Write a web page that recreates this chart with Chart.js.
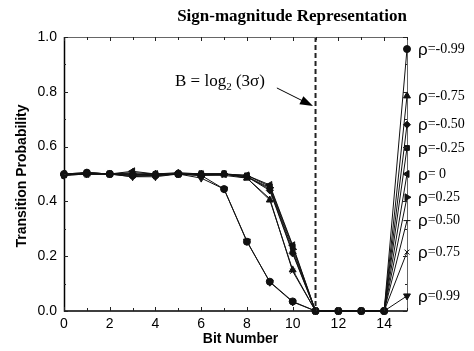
<!DOCTYPE html>
<html><head><meta charset="utf-8">
<script src="https://cdn.jsdelivr.net/npm/chart.js@4.4.1/dist/chart.umd.min.js"></script>
<style>html,body{margin:0;padding:0;background:#fff}#wrap{width:474px;height:351px}</style>
</head><body><div id="wrap"><canvas id="c" width="474" height="351"></canvas></div>
<script>
const bits = [0,1,2,3,4,5,6,7,8,9,10,11,12,13,14,15];
const xTickValues = [0,2,4,6,8,10,12,14];
const yTickValues = [0,0.2,0.4,0.6,0.8,1.0];
const rhoLabels = ['-0.99','-0.75','-0.50','-0.25',' 0','0.25','0.50','0.75','0.99'];
const sM099 = [0.50,0.505,0.50,0.495,0.495,0.50,0.495,0.445,0.253,0.107,0.035,0,0,0,0,0.956];
const sM075 = [0.50,0.50,0.50,0.505,0.50,0.50,0.50,0.50,0.485,0.405,0.15,0,0,0,0,0.785];
const sM050 = [0.50,0.505,0.50,0.50,0.50,0.505,0.50,0.50,0.49,0.44,0.21,0,0,0,0,0.68];
const sM025 = [0.495,0.505,0.50,0.495,0.50,0.50,0.50,0.50,0.495,0.455,0.235,0,0,0,0,0.595];
const sZero = [0.50,0.50,0.50,0.51,0.50,0.50,0.50,0.50,0.495,0.46,0.24,0,0,0,0,0.50];
const sP025 = [0.495,0.50,0.50,0.50,0.495,0.50,0.50,0.50,0.49,0.45,0.225,0,0,0,0,0.415];
const sP050 = [0.50,0.50,0.50,0.49,0.495,0.50,0.495,0.50,0.49,0.445,0.215,0,0,0,0,0.33];
const sP075 = [0.495,0.505,0.50,0.50,0.495,0.50,0.495,0.495,0.485,0.41,0.145,0,0,0,0,0.215];
const sP099 = [0.495,0.50,0.50,0.49,0.49,0.50,0.485,0.445,0.255,0.105,0.033,0,0,0,0,0.055];
const boundaryBit = 11;

const seriesList = [sM099,sM075,sM050,sM025,sZero,sP025,sP050,sP075,sP099];
const styles = [
  {pointStyle:'circle',rot:0,r:3.5,order:2},
  {pointStyle:'triangle',rot:0,r:4,order:3},
  {pointStyle:'rectRot',rot:0,r:3.5,order:4},
  {pointStyle:'rect',rot:0,r:3.4,order:0},
  {pointStyle:'triangle',rot:-90,r:4,order:5},
  {pointStyle:'triangle',rot:90,r:4,order:6},
  {pointStyle:'line',rot:0,r:3.5,order:7},
  {pointStyle:'crossRot',rot:0,r:3.5,order:8},
  {pointStyle:'triangle',rot:180,r:4,order:1}
];
const datasets = seriesList.map((s,i)=>({
  label:'ρ='+rhoLabels[i],
  data: bits.map((b,j)=>({x:b,y:s[j]})),
  order: styles[i].order,
  borderColor:'#111', backgroundColor:'#111', borderWidth:1,
  pointStyle:styles[i].pointStyle, pointRotation:styles[i].rot,
  pointRadius:styles[i].r, pointBorderWidth:1, pointBorderColor:'#111', pointBackgroundColor:'#111',
  tension:0, fill:false, clip:false
}));

const SANS='"Liberation Sans", Arial, sans-serif';
const SERIF='"Liberation Serif", "Times New Roman", serif';

const overlay = {
  id:'overlay',
  beforeDatasetsDraw(chart){
    const {ctx, chartArea:a, scales:{x}} = chart;
    const px = x.getPixelForValue(boundaryBit);
    ctx.save();
    ctx.strokeStyle='#222'; ctx.lineWidth=2; ctx.setLineDash([5,3]);
    ctx.beginPath(); ctx.moveTo(px,a.top); ctx.lineTo(px,a.bottom); ctx.stroke();
    ctx.restore();
    ctx.save();
    ctx.strokeStyle='#666'; ctx.lineWidth=1;
    ctx.beginPath(); ctx.moveTo(a.left,a.top+0.5); ctx.lineTo(a.right+0.5,a.top+0.5); ctx.lineTo(a.right+0.5,a.bottom); ctx.stroke();
    ctx.strokeStyle='#000'; ctx.lineWidth=1.5;
    ctx.beginPath(); ctx.moveTo(a.left+0.5,a.top); ctx.lineTo(a.left+0.5,a.bottom); ctx.lineTo(a.right+0.5,a.bottom); ctx.stroke();
    ctx.restore();
  },
  afterDatasetsDraw(chart){
    const {ctx, chartArea:a, scales:{x,y}} = chart;
    ctx.save();
    ctx.lineWidth=1; ctx.strokeStyle='#222';
    ctx.beginPath();
    for(let v=0; v<=15; v++){
      const p=Math.round(x.getPixelForValue(v))+0.5;
      const L = v%2===0?4:3;
      ctx.moveTo(p,a.bottom); ctx.lineTo(p,a.bottom-L);
      ctx.moveTo(p,a.top); ctx.lineTo(p,a.top+L);
    }
    for(let k=0;k<=10;k++){
      const p=Math.round(y.getPixelForValue(k/10))+0.5;
      const L = k%2===0?4:2;
      ctx.moveTo(a.left,p); ctx.lineTo(a.left+L,p);
      ctx.moveTo(a.right,p); ctx.lineTo(a.right-L,p);
    }
    ctx.stroke();
    ctx.fillStyle='#000';
    ctx.font='bold 17px '+SERIF; ctx.textAlign='center'; ctx.textBaseline='middle';
    ctx.fillText('Sign-magnitude Representation', 292, 17);
    ctx.font='bold 14px '+SANS;
    ctx.fillText('Bit Number', (a.left+a.right)/2+5, 339);
    ctx.save(); ctx.translate(22,(a.top+a.bottom)/2+2); ctx.rotate(-Math.PI/2);
    ctx.fillText('Transition Probability',0,0); ctx.restore();
    const f1='17px '+SERIF, f2='11px '+SERIF;
    const parts=[['B = log',f1,0],['2',f2,5],[' (3σ)',f1,0]];
    let w=0; parts.forEach(p=>{ctx.font=p[1]; w+=ctx.measureText(p[0]).width;});
    let tx = x.getPixelForValue(6.82)-w/2; const ty=y.getPixelForValue(0.836);
    ctx.textAlign='left';
    parts.forEach(p=>{ctx.font=p[1]; ctx.fillText(p[0],tx,ty+p[2]); tx+=ctx.measureText(p[0]).width;});
    const x0=x.getPixelForValue(9.31), y0=y.getPixelForValue(0.814);
    const x1=x.getPixelForValue(10.89), y1=y.getPixelForValue(0.748);
    const ang=Math.atan2(y1-y0,x1-x0);
    ctx.strokeStyle='#000'; ctx.lineWidth=1;
    ctx.beginPath(); ctx.moveTo(x0,y0); ctx.lineTo(x1-8*Math.cos(ang),y1-8*Math.sin(ang)); ctx.stroke();
    ctx.beginPath(); ctx.moveTo(x1,y1);
    ctx.lineTo(x1-13*Math.cos(ang)+4.5*Math.sin(ang), y1-13*Math.sin(ang)-4.5*Math.cos(ang));
    ctx.lineTo(x1-13*Math.cos(ang)-4.5*Math.sin(ang), y1-13*Math.sin(ang)+4.5*Math.cos(ang));
    ctx.closePath(); ctx.fill();
    seriesList.forEach((s,i)=>{
      const py=y.getPixelForValue(s[15]);
      let lx=a.right+11;
      ctx.font='17px '+SANS; ctx.textBaseline='middle';
      ctx.fillText('ρ',lx,py+1); lx+=ctx.measureText('ρ').width;
      ctx.font='14px '+SERIF;
      ctx.fillText('='+rhoLabels[i],lx,py);
    });
    ctx.restore();
  }
};

new Chart(document.getElementById('c'),{
  type:'line',
  data:{datasets},
  options:{
    responsive:false, animation:false,
    layout:{padding:{left:0,top:37,right:67,bottom:0}},
    plugins:{legend:{display:false},tooltip:{enabled:false},title:{display:false}},
    scales:{
      x:{type:'linear',min:0,max:15,
        afterFit(s){s.height=40;},
        afterBuildTicks(s){s.ticks=xTickValues.map(v=>({value:v}));},
        grid:{display:false,drawTicks:false},border:{display:false},
        ticks:{color:'#000',font:{family:SANS,size:14},padding:5,maxRotation:0,autoSkip:false}},
      y:{type:'linear',min:0,max:1,
        afterFit(s){s.width=64;},
        afterBuildTicks(s){s.ticks=yTickValues.map(v=>({value:v}));},
        grid:{display:false,drawTicks:false},border:{display:false},
        ticks:{color:'#000',font:{family:SANS,size:14},padding:7,callback:v=>v.toFixed(1)}}
    }
  },
  plugins:[overlay]
});
</script></body></html>
